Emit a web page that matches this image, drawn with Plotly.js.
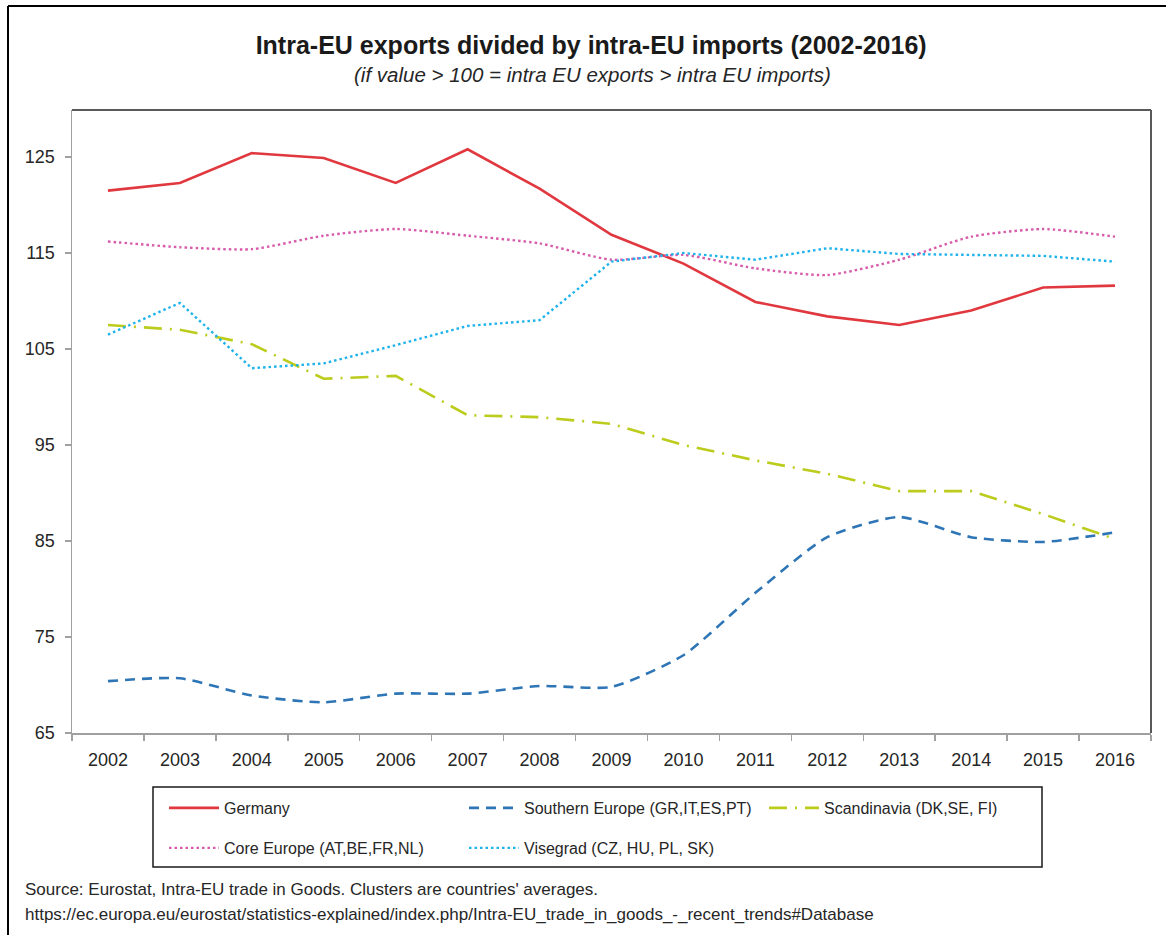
<!DOCTYPE html>
<html>
<head>
<meta charset="utf-8">
<script src="https://cdn.plot.ly/plotly-3.0.1.min.js"></script>
<style>html,body{margin:0;padding:0;background:#fff;}#chart{width:1166px;height:935px;}</style>
</head>
<body>
<div id="chart"></div>
<script>
const years = ["2002","2003","2004","2005","2006","2007","2008","2009","2010","2011","2012","2013","2014","2015","2016"];
const germany     = [121.5,122.3,125.4,124.9,122.3,125.8,121.7,116.9,113.9,109.9,108.4,107.5,109.0,111.4,111.6];
const southern    = [70.4,70.7,68.9,68.2,69.1,69.1,69.9,69.8,73.1,79.6,85.4,87.5,85.4,84.9,85.9];
const scandinavia = [107.5,107.0,105.5,101.9,102.2,98.1,97.9,97.2,95.0,93.4,92.0,90.2,90.2,87.8,85.2];
const core        = [116.2,115.6,115.4,116.8,117.5,116.8,116.0,114.3,114.8,113.4,112.7,114.3,116.7,117.5,116.7];
const visegrad    = [106.5,109.8,103.0,103.5,105.4,107.4,108.0,114.1,115.0,114.3,115.5,114.9,114.8,114.7,114.1];
const seriesNames = ["Germany","Southern Europe (GR,IT,ES,PT)","Scandinavia (DK,SE, FI)","Core Europe (AT,BE,FR,NL)","Visegrad (CZ, HU, PL, SK)"];
const yTicks = [65,75,85,95,105,115,125];

const W = 1166, H = 935;
const L = 72, R = 1151, T = 110, B = 733;
const px = x => (x - L) / (R - L);
const py = y => (B - y) / (B - T);
const FONT = "'Liberation Sans', Arial, sans-serif";
const TXT = '#262626';

const traces = [
  {y: germany, name: seriesNames[0], line: {color: '#e0383e', width: 2.6}, legend: 'legend'},
  {y: southern, name: seriesNames[1], line: {color: '#2e75b6', width: 2.6, dash: '10px,7px', shape: 'spline', smoothing: 0.6}, legend: 'legend'},
  {y: scandinavia, name: seriesNames[2], line: {color: '#bccc1c', width: 2.6, dash: '18px,8px,2px,8px'}, legend: 'legend'},
  {y: core, name: seriesNames[3], line: {color: '#d85aaa', width: 2.4, dash: '2.5px,3px', shape: 'spline', smoothing: 0.6}, legend: 'legend2'},
  {y: visegrad, name: seriesNames[4], line: {color: '#1eb2ec', width: 2.4, dash: '2.5px,3px'}, legend: 'legend2'}
].map(t => Object.assign({x: years, type: 'scatter', mode: 'lines', hoverinfo: 'skip'}, t));

const legendCommon = {
  orientation: 'h', xanchor: 'left', yanchor: 'middle',
  bgcolor: 'rgba(0,0,0,0)', borderwidth: 0,
  font: {family: FONT, size: 16, color: TXT},
  entrywidth: 235, entrywidthmode: 'pixels', itemwidth: 50,
  traceorder: 'normal'
};

const layout = {
  width: W, height: H,
  margin: {l: L, r: W - R, t: T, b: H - B, pad: 0},
  paper_bgcolor: '#fff', plot_bgcolor: '#fff',
  showlegend: true,
  title: {
    text: '<b>Intra-EU exports divided by intra-EU imports (2002-2016)</b>',
    font: {family: FONT, size: 25, color: '#1a1a1a'},
    x: 0.507, xref: 'container', xanchor: 'center',
    y: 1 - 45 / H, yref: 'container', yanchor: 'middle'
  },
  xaxis: {
    type: 'category', categoryorder: 'array', categoryarray: years,
    range: [-0.5, 14.5], fixedrange: true,
    tickson: 'boundaries', ticks: 'outside', ticklen: 6, tickcolor: '#a0a0a0', tickwidth: 1.5,
    showline: true, linecolor: '#a0a0a0', linewidth: 1.5,
    showgrid: false, zeroline: false,
    tickfont: {family: FONT, size: 18, color: TXT},
    ticklabelstandoff: 10
  },
  yaxis: {
    range: [65, 65 + (B - T) / 9.6], fixedrange: true,
    tickmode: 'array', tickvals: yTicks, ticktext: yTicks.map(String),
    ticks: 'outside', ticklen: 6, tickcolor: '#a0a0a0', tickwidth: 1.5,
    showline: true, linecolor: '#a0a0a0', linewidth: 1.5,
    showgrid: false, zeroline: false,
    tickfont: {family: FONT, size: 18, color: TXT},
    ticklabelstandoff: 6
  },
  legend: Object.assign({}, legendCommon, {x: px(164), y: py(808)}),
  legend2: Object.assign({}, legendCommon, {x: px(164), y: py(848)}),
  shapes: [
    {type: 'line', xref: 'paper', yref: 'paper', x0: 0, x1: 1, y0: 1, y1: 1, line: {color: '#595959', width: 2}},
    {type: 'line', xref: 'paper', yref: 'paper', x0: 1, x1: 1, y0: 0, y1: 1, line: {color: '#595959', width: 2}},
    {type: 'rect', xref: 'paper', yref: 'paper', x0: px(153), x1: px(1042), y0: py(787), y1: py(867), line: {color: '#1a1a1a', width: 1.5}, fillcolor: 'rgba(0,0,0,0)'},
    {type: 'line', xref: 'paper', yref: 'paper', x0: px(8), x1: px(1170), y0: py(6), y1: py(6), line: {color: '#000', width: 2}},
    {type: 'line', xref: 'paper', yref: 'paper', x0: px(8), x1: px(8), y0: py(6), y1: py(940), line: {color: '#000', width: 2}}
  ],
  annotations: [
    {text: '<i>(if value &gt; 100 = intra EU exports &gt; intra EU imports)</i>', xref: 'paper', yref: 'paper',
     x: px(592), y: py(74), xanchor: 'center', yanchor: 'middle', showarrow: false,
     font: {family: FONT, size: 20.5, color: TXT}},
    {text: "Source: Eurostat, Intra-EU trade in Goods. Clusters are countries' averages.", xref: 'paper', yref: 'paper',
     x: px(23), y: py(889), xanchor: 'left', yanchor: 'middle', showarrow: false,
     font: {family: FONT, size: 17, color: TXT}},
    {text: 'https://ec.europa.eu/eurostat/statistics-explained/index.php/Intra-EU_trade_in_goods_-_recent_trends#Database', xref: 'paper', yref: 'paper',
     x: px(23), y: py(914), xanchor: 'left', yanchor: 'middle', showarrow: false,
     font: {family: FONT, size: 17, color: TXT}}
  ]
};

Plotly.newPlot('chart', traces, layout, {displayModeBar: false, staticPlot: true});
</script>
</body>
</html>
